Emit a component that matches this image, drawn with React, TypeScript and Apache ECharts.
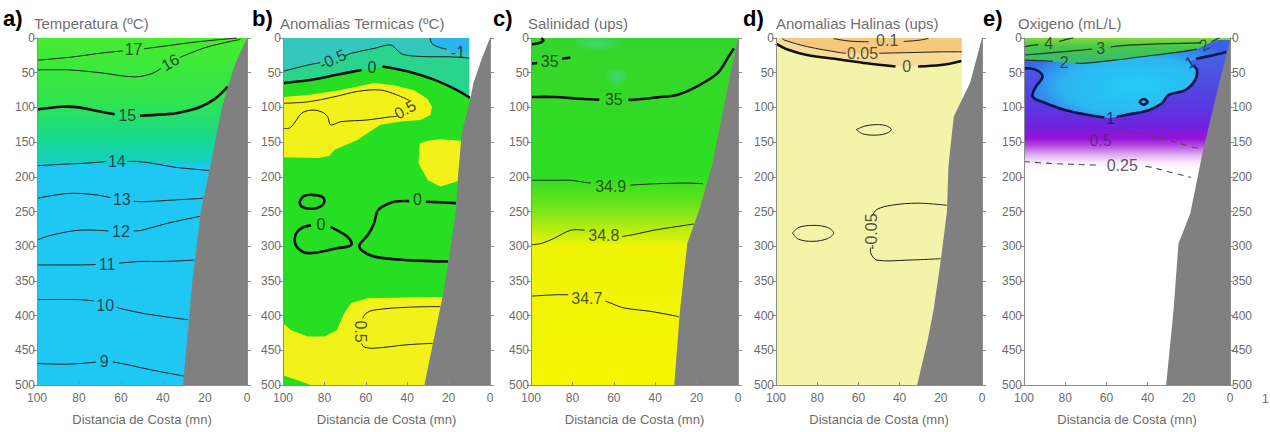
import { useEffect, useRef } from 'react';
import * as echarts from 'echarts';

type P = [number, number];
type Lbl = { t: string; x: number; y: number; r?: number };

// ---------------- shared axes / texts ----------------
const DIST_MIN = 0;
const DIST_MAX = 100;
const DIST_STEP = 20;
const DEPTH_MIN = 0;
const DEPTH_MAX = 500;
const DEPTH_STEP = 50;
const letters = ['a)', 'b)', 'c)', 'd)', 'e)'];
const titles = ['Temperatura (ºC)', 'Anomalias Termicas (ºC)', 'Salinidad (ups)', 'Anomalias Halinas (ups)', 'Oxigeno (mL/L)'];
const xAxisName = 'Distancia de Costa (mn)';
const fullRect: P[] = [[100, 0], [0, 0], [0, 500], [100, 500]];

// ---------------- a) Temperatura ----------------
// sea-floor polygons: [distance (mn), depth (m)]
const aBathy: P[] = [[0, 500], [0, 0], [6, 40], [12, 100], [18.5, 200], [22, 250], [26, 350], [30.5, 500]];
const a17: P[][] = [[[100, 32], [85, 28], [70, 22], [59, 18.5]], [[49, 15.5], [40, 12], [25, 6], [12, 2], [5, 0]]];
const a16: P[][] = [[[100, 46], [85, 46], [70, 50], [54, 56], [46, 52], [41, 44]], [[32, 28], [20, 14], [8, 5], [3, 2]]];
const a15: P[][] = [[[100, 103], [88, 99], [80, 100], [70, 106], [63, 110]], [[51, 112], [40, 110], [33, 108], [22, 99], [15, 87], [9.2, 70]]];
const a14: P[][] = [[[100, 184], [88, 182], [75, 180], [67, 178]], [[57, 178], [52, 178], [44, 181], [35, 186], [25, 189], [18, 191]]];
const a13: P[][] = [[[100, 231], [85, 224], [72, 226], [65, 230]], [[54, 235], [50, 236], [38, 234], [20.8, 231]]];
const a12: P[][] = [[[100, 291], [93, 284], [80, 277], [66, 278]], [[54, 278], [50, 277], [38, 267], [22.4, 257]]];
const a11: P[][] = [[[100, 327], [80, 327], [72, 326.5]], [[61, 324.5], [51, 322], [40, 322], [25, 320]]];
const a10: P[][] = [[[100, 377], [80, 377], [73, 379]], [[62, 388], [60, 390], [49, 397], [38, 402], [28, 406]]];
const a9: P[][] = [[[100, 469], [85, 470], [72, 467]], [[64, 467], [58, 470], [46, 478], [30.2, 487]]];
const aLabels: Lbl[] = [
  { t: '17', x: 54, y: 17 }, { t: '16', x: 36.5, y: 35, r: 30 }, { t: '15', x: 57, y: 111 },
  { t: '14', x: 62, y: 178 }, { t: '13', x: 59.6, y: 233 }, { t: '12', x: 60, y: 279 },
  { t: '11', x: 66.6, y: 326 }, { t: '10', x: 67.5, y: 385 }, { t: '9', x: 68, y: 466 },
];

// ---------------- b) Anomalias Termicas ----------------
const bBathy: P[] = [[0, 500], [0, 0], [4, 30], [8, 65], [9.6, 89], [13.6, 137], [15.5, 200], [16.5, 250], [20, 320], [22.6, 368], [31.7, 500]];
const bNoData: P[] = [[10, 0], [0, 0], [0, 85], [10, 85]];
const bAbove0: P[] = [[100, 0], [10, 0], [10, 85], [16, 75], [27, 60], [40, 48], [51, 41], [57, 44], [62, 46], [74, 53], [88, 61], [100, 65]];
const bAboveM05: P[] = [[100, 0], [10, 0], [10, 29], [20, 27], [30, 27], [41.7, 24], [45, 17], [48, 10], [56, 15], [67, 22], [76, 32], [88, 39], [100, 48]];
const bAboveM1: P[] = [[29, 0], [10, 0], [10, 21], [16, 21], [22, 16], [27, 10]];
const bWarm1: P[] = [[100, 85], [88, 82], [72, 75], [56, 65], [46.5, 68], [37, 75], [30.4, 87], [28, 99], [28.8, 111], [33.7, 118], [42, 120], [53, 125], [59, 137], [64, 147], [75, 161], [77.7, 170], [83, 173], [100, 172]];
const bWarm2: P[] = [[34, 152], [30, 148], [24, 146], [14, 148], [14, 205], [24, 214], [30, 205], [34.5, 181]];
const bWarm3: P[] = [[100, 411], [96, 421], [88, 430], [80, 430], [74, 421], [70.5, 397], [67, 382], [59, 375], [40, 374], [15, 373], [15, 500], [86.5, 500], [93, 493], [100, 486]];
const bM05: P[][] = [[[100, 48], [88, 39], [82, 35.5]], [[70, 26], [67, 22], [56, 15], [48, 10], [45, 17], [41.7, 24], [30, 27], [20, 27], [10, 29]]];
const bM1: P[][] = [[[29, 0], [28, 8], [25, 13], [21, 16]]];
const b0Top: P[][] = [[[100, 65], [88, 61], [74, 53], [62, 46]], [[52, 41], [40, 48], [27, 60], [16, 75], [9.8, 86]]];
const b05Up: P[][] = [
  [[100, 94], [88, 92], [75, 84.6], [64, 77], [53, 75], [45, 82], [39, 90]],
  [[45, 113], [48, 113.5], [59, 118], [72, 120.6], [77, 125], [78.5, 113], [81.7, 106], [86.5, 104], [91, 108.5], [94.6, 123], [97, 130], [100, 130]],
];
const b05Low: P[][] = [[[24, 387], [40, 388], [56, 392], [60, 397], [61.5, 404]], [[62, 440], [61, 445], [56, 447], [40, 442], [27.7, 440]]];
const b0Ring: P[][] = [[[92, 236], [90, 228], [86, 226], [81, 229], [80, 236], [82, 243], [86, 246], [91, 243], [92, 236]]];
const b0Loop: P[][] = [[[86.5, 270], [91, 274], [94, 284], [93.5, 300], [88, 310], [74, 303], [67, 298], [69, 286], [74, 277], [77, 272]]];
const b0Right: P[][] = [[[16.4, 238], [26, 236.5], [31, 236]], [[39, 235], [46.5, 236], [52, 243], [54.5, 250], [56, 267], [59, 284], [63, 298], [62, 306], [56, 315], [40, 320], [20.2, 322]]];
const bLabels: Lbl[] = [
  { t: '-0.5', x: 76, y: 31, r: 25 }, { t: '-1', x: 15.5, y: 21 }, { t: '0', x: 57, y: 43 },
  { t: '0.5', x: 41, y: 103, r: 30 }, { t: '0.5', x: 62.5, y: 423, r: -90 }, { t: '0', x: 81.7, y: 269 },
  { t: '0', x: 35, y: 233 },
];

// ---------------- c) Salinidad ----------------
const cBathy: P[] = [[0, 500], [0, 0], [3, 41], [6.2, 89], [12.7, 185], [19, 250], [24.5, 296], [28, 392], [30.8, 500]];
const c35: P[][] = [[[100, 85], [88, 85], [79, 87], [67, 89]], [[53, 89], [50, 89], [39, 85.5], [29.5, 82], [20, 70], [10, 51], [4.6, 27], [2, 15]]];
const c35Top: P[][] = [[[100, 9], [97, 8], [94, 4], [95, 0]], [[100, 37], [97, 36]], [[85, 30], [81, 28]]];
const c349: P[][] = [[[100, 205], [88, 205], [80.8, 205], [74, 208], [71, 209]], [[52, 212], [40, 210], [24.7, 209], [17, 210]]];
const c348: P[][] = [[[100, 298], [95, 296], [88.8, 288.6], [80.8, 277], [74, 277]], [[56, 286], [50, 283], [40.7, 277], [24.7, 269.5], [21.3, 268]]];
const c347: P[][] = [[[100, 372], [88, 370], [82, 370]], [[64, 379], [61.5, 382], [55, 389], [42, 394], [29.5, 401], [28.4, 402]]];
const cGlow1: P[] = [[80, 0], [56, 0], [58, 14], [66, 20], [76, 14]];
const cGlow2: P[] = [[64, 45], [54, 45], [53, 60], [58, 72], [64, 62]];
const cLabels: Lbl[] = [
  { t: '35', x: 60, y: 89 }, { t: '35', x: 91, y: 34 }, { t: '34.9', x: 61.5, y: 214 },
  { t: '34.8', x: 64.8, y: 284 }, { t: '34.7', x: 73, y: 375 },
];

// ---------------- d) Anomalias Halinas ----------------
const dBathy: P[] = [[0, 500], [0, 0], [5.8, 65], [13.7, 113], [16.3, 185], [17, 250], [20, 320], [23.5, 392], [26.7, 440], [31.5, 500]];
const dNoData: P[] = [[9.8, 0], [0, 0], [0, 95], [9.8, 95]];
const dAbove0: P[] = [[100, 0], [9.8, 0], [9.8, 33], [20, 39], [30, 41], [46, 41], [56, 36.5], [69, 31], [85, 24.5], [94, 17], [100, 8]];
const dAbove005: P[] = [[97, 0], [9.8, 0], [9.8, 20], [20, 20], [35, 21], [49, 22], [69, 21], [84.7, 12.5], [96, 3]];
const d01: P[][] = [[[72, 1], [64, 4.5], [55, 5.5]], [[38, 5], [30, 3], [26, 0.5]]];
const d005: P[][] = [[[97, 0], [96, 3], [84.7, 12.5], [69, 21], [66, 22]], [[50, 22], [35, 21], [20, 20], [9.8, 20]]];
const d0: P[][] = [[[100, 8], [94, 17], [85, 24.5], [69, 31], [56, 36.5], [42, 41]], [[31, 41], [20, 39], [10, 33]]];
const dM005Mid: P[][] = [[[61, 132], [57, 127], [52.5, 125], [47, 126], [44, 132], [47, 138], [52.5, 140], [58, 138], [61, 132]]];
const dM005Left: P[][] = [[[92, 281], [89, 273], [82, 270], [75, 273], [72, 281], [75, 289], [82, 293], [89, 290], [92, 281]]];
const dM005Big: P[][] = [[[17, 241], [31.5, 238], [44, 241], [51, 247], [53, 255]], [[54, 302], [54, 310], [51, 320], [36, 320], [20, 318]]];
const dLabels: Lbl[] = [
  { t: '0.1', x: 46, y: 3 }, { t: '0.05', x: 58, y: 22 }, { t: '0', x: 36.5, y: 41 },
  { t: '-0.05', x: 53.5, y: 279, r: 90 },
];

// ---------------- e) Oxigeno ----------------
const eBathy: P[] = [[0, 500], [0, 5], [3.2, 41], [7.2, 89], [13, 161], [19.3, 253], [25, 296], [27.4, 392], [31, 500]];
const eInside1: P[] = [[100, 0], [100, 43.7], [94.2, 46], [91, 56], [94.2, 70], [95.8, 84.6], [89.4, 94], [79.7, 104], [66.8, 112], [58, 115.7], [50.7, 111], [39.5, 104], [33, 94], [29.8, 82], [21.7, 75], [16.9, 60.5], [16, 46], [20, 34], [16, 30], [8, 24], [0, 20], [0, 0]];
const eOxic: P[] = [[100, 0], [0, 0], [0, 3], [6, 3], [9, 6], [16, 16], [23.3, 19.7], [36.2, 24.5], [55.5, 31.7], [71.6, 36.5], [80, 35.5], [90, 33.5], [100, 32]];
const e4: P[][] = [[[100, 13], [97, 11], [93, 9.5]], [[83, 5], [78, 1], [76, 0]]];
const e3: P[][] = [[[100, 24.5], [86, 21], [71.6, 17.3], [67, 16]], [[58, 13], [47.5, 10], [35, 8.5], [23.3, 7.7], [14, 7]]];
const e2: P[][] = [[[100, 31.7], [93, 32.5], [86, 33.5]], [[75, 36], [71.6, 36.5], [55.5, 31.7], [36.2, 24.5], [23.3, 19.7], [16, 16]], [[9, 5], [6, 1], [5, 0]]];
const e1: P[][] = [
  [[100, 43.7], [94.2, 46], [91, 56], [94.2, 70], [95.8, 84.6], [89.4, 94], [79.7, 104], [66.8, 112], [61, 114.5]],
  [[55, 113.5], [50.7, 111], [39.5, 104], [33, 94], [29.8, 82], [21.7, 75], [16.9, 60.5], [16, 46], [17.5, 41]],
  [[16.5, 30], [10, 26], [4, 22], [1.8, 20]],
];
const e1Dot: P[][] = [[[44, 92], [42, 88], [40, 92], [42, 96], [44, 92]]];
const e05: P[][] = [[[55, 134], [47.5, 135], [36.2, 142], [18.5, 157], [15, 159]]];
const e025: P[][] = [[[100, 178], [87.8, 180.6], [66.8, 183], [63, 183]], [[41, 185], [39.5, 185.5], [29.8, 192.6], [19, 201]]];
const eLabels: Lbl[] = [
  { t: '4', x: 88, y: 8 }, { t: '3', x: 62.8, y: 14.5 }, { t: '2', x: 80.5, y: 35 }, { t: '2', x: 12.5, y: 10, r: 30 },
  { t: '1', x: 58, y: 116 }, { t: '1', x: 19.5, y: 35, r: 30 }, { t: '0.5', x: 62.8, y: 147 }, { t: '0.25', x: 52.3, y: 183 },
];

// ---------------- layout / styles ----------------
const gridLeft = [37, 283, 531, 776, 1024];
const gridWidth = [210, 207, 207, 206, 206];
const letterLeft = [3, 252, 493, 743, 983];
const titleLeft = [34, 280, 528, 776, 1018];
const FONT = '"Liberation Sans", Arial, sans-serif';
const AXIS_GRAY = '#8c8c8c';
const TEXT_GRAY = '#6c6c6c';
const SEAFLOOR = '#808080';

const vgrad = (stops: [number, string][]) =>
  new echarts.graphic.LinearGradient(0, 0, 0, 1, stops.map(([offset, color]) => ({ offset, color })));

const lineStyles: Record<string, any> = {
  thin: { stroke: '#1e1e1e', lineWidth: 1 },
  thick: { stroke: '#101010', lineWidth: 2.6 },
  thinG: { stroke: '#1b3a1b', lineWidth: 1.2 },
  thickN: { stroke: '#0c1450', lineWidth: 2.6 },
  dash: { stroke: '#4a4a4a', lineWidth: 1.1, lineDash: [6, 5] },
};

function App() {
  const ref = useRef<HTMLDivElement>(null);
  useEffect(() => {
    if (!ref.current) return;
    const chart = echarts.init(ref.current, null, { renderer: 'svg' });

    const fillA = vgrad([[0, '#46ec2e'], [0.18, '#30e44c'], [0.3, '#16d896'], [0.355, '#14d0c0'], [0.37, '#1ec8f2'], [1, '#1ec8f2']]);
    const fillC = vgrad([[0, '#36d62c'], [0.4, '#2ede22'], [0.48, '#6ae41c'], [0.55, '#b8ec10'], [0.6, '#eef404'], [1, '#f6f600']]);
    const glow = () => new echarts.graphic.RadialGradient(0.5, 0.4, 0.6, [
      { offset: 0, color: 'rgba(70,215,190,0.5)' }, { offset: 1, color: 'rgba(70,215,190,0)' },
    ]);
    const fillE = vgrad([[0, '#3a70e8'], [0.08, '#4a58e4'], [0.2, '#5838e0'], [0.26, '#7420de'], [0.29, '#9812d6'], [0.31, '#b44ae0'], [0.335, '#dca8f0'], [0.36, '#f8eefc'], [0.38, '#ffffff'], [1, '#ffffff']]);
    const fillEIn = new echarts.graphic.RadialGradient(0.55, 0.6, 0.6, [
      { offset: 0, color: '#22ccf6' }, { offset: 0.6, color: '#2cb6f2' }, { offset: 1, color: '#3a62e6' },
    ]);
    const fillEOx = vgrad([[0, '#86d840'], [0.35, '#46c848'], [1, '#38b87c']]);

    const panels: any[] = [
      {
        fills: [[fullRect, fillA]], noData: null, bathy: aBathy,
        lines: [[a17, 'thin'], [a16, 'thin'], [a15, 'thick'], [a14, 'thin'], [a13, 'thin'], [a12, 'thin'], [a11, 'thin'], [a10, 'thin'], [a9, 'thin']],
        labels: aLabels, lc: () => '#1a1f2a',
      },
      {
        fills: [[fullRect, '#26de22'], [bAbove0, '#2ad48e'], [bAboveM05, '#34c8bc'], [bAboveM1, '#2cb4ee'], [bWarm1, '#f2f21a'], [bWarm2, '#f2f21a'], [bWarm3, '#f2f21a']],
        noData: bNoData, bathy: bBathy,
        lines: [[bM05, 'thin'], [bM1, 'thin'], [b0Top, 'thick'], [b05Up, 'thin'], [b05Low, 'thin'], [b0Ring, 'thick'], [b0Loop, 'thick'], [b0Right, 'thick']],
        labels: bLabels, lc: () => '#1a1a1a',
      },
      {
        fills: [[fullRect, fillC], [cGlow1, glow()], [cGlow2, glow()]], noData: null, bathy: cBathy,
        lines: [[c35, 'thick'], [c35Top, 'thick'], [c349, 'thin'], [c348, 'thin'], [c347, 'thin']],
        labels: cLabels, lc: () => '#1c2a1c',
      },
      {
        fills: [[fullRect, '#f3f3aa'], [dAbove0, '#f7dc98'], [dAbove005, '#f5c87c']],
        noData: dNoData, bathy: dBathy,
        lines: [[d01, 'thin'], [d005, 'thin'], [d0, 'thick'], [dM005Mid, 'thin'], [dM005Left, 'thin'], [dM005Big, 'thin']],
        labels: dLabels, lc: () => '#2a2a1a',
      },
      {
        fills: [[fullRect, fillE], [eInside1, fillEIn], [eOxic, fillEOx]], noData: null, bathy: eBathy,
        lines: [[e4, 'thinG'], [e3, 'thinG'], [e2, 'thinG'], [e1, 'thickN'], [e1Dot, 'thickN'], [e05, 'dash'], [e025, 'dash']],
        labels: eLabels,
        lc: (t: string) => (t === '1' ? '#0c1450' : t === '0.5' ? '#5a1c86' : t === '0.25' ? '#333333' : '#1b3a1b'),
      },
    ];

    // one custom series per panel: filled fields, contour lines and the sea floor, in drawing order
    const panelSeries = (g: number, pn: any) => ({
      type: 'custom',
      xAxisIndex: g,
      yAxisIndex: g * 2,
      data: [pn.bathy[0]],
      silent: true,
      z: 2,
      renderItem: (_params: any, api: any) => {
        const px = (pts: P[]) => pts.map((p) => {
          const c = api.coord([p[0], p[1]]);
          return [c[0], c[1]];
        });
        const children: any[] = [];
        pn.fills.forEach(([pts, fill]: [P[], any]) => children.push({ type: 'polygon', shape: { points: px(pts) }, style: { fill } }));
        if (pn.noData) children.push({ type: 'polygon', shape: { points: px(pn.noData) }, style: { fill: '#ffffff' } });
        pn.lines.forEach(([segs, kind]: [P[][], string]) => {
          segs.forEach((seg) => children.push({
            type: 'polyline', shape: { points: px(seg), smooth: 0.35 },
            style: { ...lineStyles[kind], fill: 'none' },
          }));
        });
        children.push({ type: 'polygon', shape: { points: px(pn.bathy) }, style: { fill: SEAFLOOR } });
        return { type: 'group', children };
      },
    });

    const series: any[] = [];
    panels.forEach((pn, g) => {
      series.push(panelSeries(g, pn));
      series.push({
        type: 'scatter', xAxisIndex: g, yAxisIndex: g * 2, symbolSize: 1, silent: true, z: 10,
        itemStyle: { color: 'rgba(0,0,0,0)' },
        data: pn.labels.map((l: Lbl) => ({
          value: [l.x, l.y],
          label: {
            show: true, position: 'inside', formatter: l.t, rotate: l.r || 0,
            color: pn.lc(l.t), fontSize: 16, fontFamily: FONT,
          },
        })),
      });
    });

    const grid = gridLeft.map((left, i) => ({ left, top: 38, width: gridWidth[i], height: 347, containLabel: false }));
    const xAxis = gridLeft.map((_, i) => ({
      gridIndex: i, type: 'value', min: DIST_MIN, max: DIST_MAX, interval: DIST_STEP, inverse: true, z: 20,
      axisLine: { show: true, onZero: false, lineStyle: { color: AXIS_GRAY, width: 1 } },
      axisTick: { show: true, inside: true, length: 3, lineStyle: { color: AXIS_GRAY } },
      axisLabel: { color: TEXT_GRAY, fontSize: 12, margin: 7, fontFamily: FONT },
      splitLine: { show: false },
      name: xAxisName, nameLocation: 'middle', nameGap: 28,
      nameTextStyle: { color: TEXT_GRAY, fontSize: 13, fontFamily: FONT },
    }));
    const yAxis: any[] = [];
    gridLeft.forEach((_, i) => {
      (['left', 'right'] as const).forEach((position) => {
        yAxis.push({
          gridIndex: i, type: 'value', min: DEPTH_MIN, max: DEPTH_MAX, interval: DEPTH_STEP, inverse: true, position, z: 20,
          axisLine: { show: true, onZero: false, lineStyle: { color: AXIS_GRAY, width: 1 } },
          axisTick: { show: true, length: 4, lineStyle: { color: AXIS_GRAY } },
          axisLabel: { show: position === 'left' || i === 4, color: TEXT_GRAY, fontSize: 12, margin: 2, fontFamily: FONT },
          splitLine: { show: false },
        });
      });
    });

    const graphic: any[] = [];
    letters.forEach((t, i) => graphic.push({
      type: 'text', left: letterLeft[i], top: 7,
      style: { text: t, fontSize: 22, fontWeight: 'bold', fontFamily: FONT, fill: '#000000' },
    }));
    titles.forEach((t, i) => graphic.push({
      type: 'text', left: titleLeft[i], top: 16,
      style: { text: t, fontSize: 15, fontFamily: FONT, fill: '#707070' },
    }));
    graphic.push({ type: 'text', left: 1262, top: 393, style: { text: '1', fontSize: 12, fontFamily: FONT, fill: TEXT_GRAY } });

    chart.setOption({
      animation: false,
      backgroundColor: '#ffffff',
      textStyle: { fontFamily: FONT },
      grid, xAxis, yAxis, series, graphic,
    });
    return () => chart.dispose();
  }, []);
  return <div ref={ref} style={{ position: 'fixed', left: 0, top: 0, width: 1270, height: 432 }} />;
}

export default App;
